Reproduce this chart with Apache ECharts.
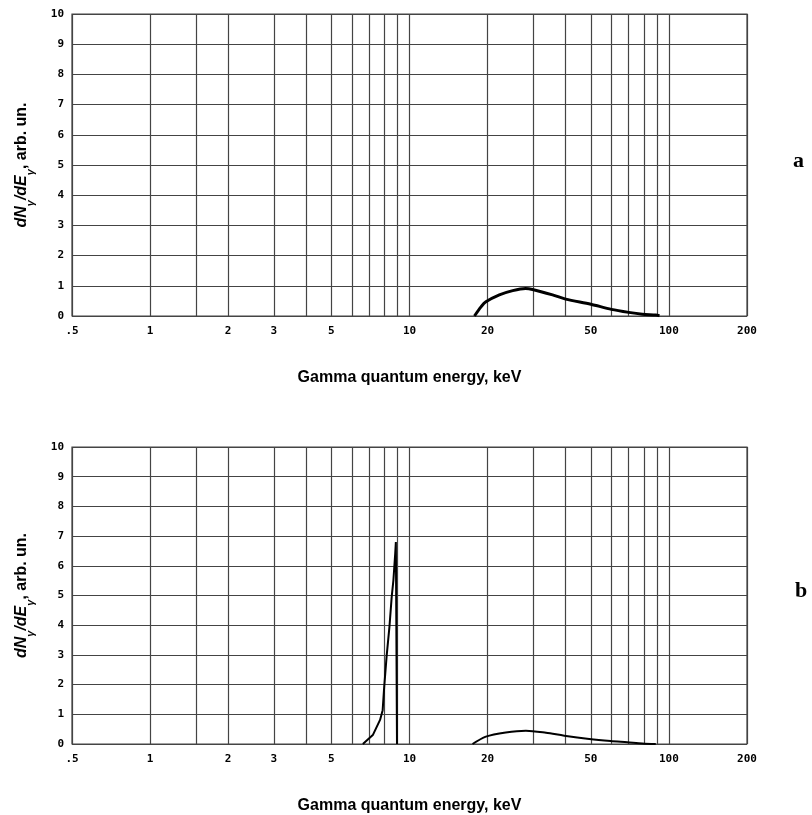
<!DOCTYPE html>
<html>
<head>
<meta charset="utf-8">
<script src="https://cdn.jsdelivr.net/npm/echarts@6/dist/echarts.min.js"></script>
<style>
  html, body { margin: 0; background: #fff; }
  #main { width: 812px; height: 815px; }
</style>
</head>
<body>
<div id="main"></div>
<script>
// energy (keV) and dN/dE (arb. un.)
var energyA = [17.8, 18.9, 19.7, 22.2, 25.0, 28.0, 29.8, 35.6, 40, 50, 60, 70, 79, 89, 92]
var countsA = [0, 0.31, 0.47, 0.70, 0.84, 0.91, 0.88, 0.70, 0.56, 0.39, 0.22, 0.12, 0.06, 0.03, 0.01]

var energyB1 = [6.61, 7.22, 7.70, 7.88, 7.99, 8.16, 8.37, 8.54, 8.67, 8.81, 8.86, 8.95]
var countsB1 = [0, 0.3, 0.81, 1.14, 1.93, 2.94, 3.95, 4.96, 5.52, 6.42, 6.8, 0]

var energyB2 = [17.5, 19.7, 23.5, 28.1, 33.6, 39.5, 49.3, 59.6, 69.1, 79, 89]
var countsB2 = [0, 0.25, 0.39, 0.45, 0.38, 0.28, 0.17, 0.10, 0.06, 0.02, 0]

var xLabels = [0.5, 1, 2, 3, 5, 10, 20, 50, 100, 200]
var xGrid = [0.5, 1, 1.5, 2, 3, 4, 5, 6, 7, 8, 9, 10, 20, 30, 40, 50, 60, 70, 80, 90, 100, 200]

function pairs (xs, ys) {
  return xs.map(function (x, i) { return [x, ys[i]] })
}

var monoFont = 'DejaVu Sans Mono'
var gridColor = '#444'

function xAxisFor (idx) {
  return {
    type: 'log',
    logBase: 10,
    gridIndex: idx,
    min: 0.5,
    max: 200,
    name: 'Gamma quantum energy, keV',
    nameLocation: 'middle',
    nameGap: 54,
    nameTextStyle: { fontFamily: 'Liberation Sans', fontWeight: 'bold', fontSize: 16, color: '#000' },
    axisLine: { show: false },
    axisTick: { show: false, customValues: xGrid },
    splitLine: { show: true, lineStyle: { color: gridColor, width: 1.2 } },
    axisLabel: {
      customValues: xLabels,
      formatter: function (v) { return v === 0.5 ? '.5' : String(v) },
      fontFamily: monoFont,
      fontWeight: 'bold',
      fontSize: 11,
      color: '#000',
      margin: 10
    }
  }
}

function yAxisFor (idx) {
  return {
    type: 'value',
    gridIndex: idx,
    min: 0,
    max: 10,
    interval: 1,
    name: '{m|dN}{s|γ}{m|/dE}{s|γ}{c|, arb. un.}',
    nameLocation: 'middle',
    nameGap: 36,
    nameTextStyle: {
      rich: {
        m: { fontFamily: 'Liberation Sans', fontStyle: 'italic', fontWeight: 'bold', fontSize: 16, color: '#000', lineHeight: 22, verticalAlign: 'top' },
        s: { fontFamily: 'Liberation Sans', fontStyle: 'italic', fontWeight: 'bold', fontSize: 11, color: '#000', lineHeight: 22, verticalAlign: 'bottom' },
        c: { fontFamily: 'Liberation Sans', fontWeight: 'bold', fontSize: 16, color: '#000', lineHeight: 22, verticalAlign: 'top' }
      }
    },
    axisLine: { show: false },
    axisTick: { show: false },
    splitLine: { show: true, lineStyle: { color: gridColor, width: 1.2 } },
    axisLabel: { fontFamily: monoFont, fontWeight: 'bold', fontSize: 11, color: '#000', margin: 8 }
  }
}

var chart = echarts.init(document.getElementById('main'))
chart.setOption({
  animation: false,
  backgroundColor: '#fff',
  title: [
    { text: 'a', left: 788, top: 145, textStyle: { fontFamily: 'Liberation Serif', fontWeight: 'bold', fontSize: 22, color: '#000' } },
    { text: 'b', left: 790, top: 575, textStyle: { fontFamily: 'Liberation Serif', fontWeight: 'bold', fontSize: 22, color: '#000' } }
  ],
  grid: [
    { left: 72, top: 14, width: 675, height: 302, show: true, borderColor: gridColor, borderWidth: 1.2 },
    { left: 72, top: 447, width: 675, height: 297, show: true, borderColor: gridColor, borderWidth: 1.2 }
  ],
  xAxis: [xAxisFor(0), xAxisFor(1)],
  yAxis: [yAxisFor(0), yAxisFor(1)],
  series: [
    { type: 'line', xAxisIndex: 0, yAxisIndex: 0, data: pairs(energyA, countsA), smooth: 0.3, showSymbol: false, lineStyle: { color: '#000', width: 3 } },
    { type: 'line', xAxisIndex: 1, yAxisIndex: 1, data: pairs(energyB1, countsB1), showSymbol: false, lineStyle: { color: '#000', width: 2 } },
    { type: 'line', xAxisIndex: 1, yAxisIndex: 1, data: pairs(energyB2, countsB2), smooth: 0.3, showSymbol: false, lineStyle: { color: '#000', width: 2 } }
  ]
})
</script>
</body>
</html>
